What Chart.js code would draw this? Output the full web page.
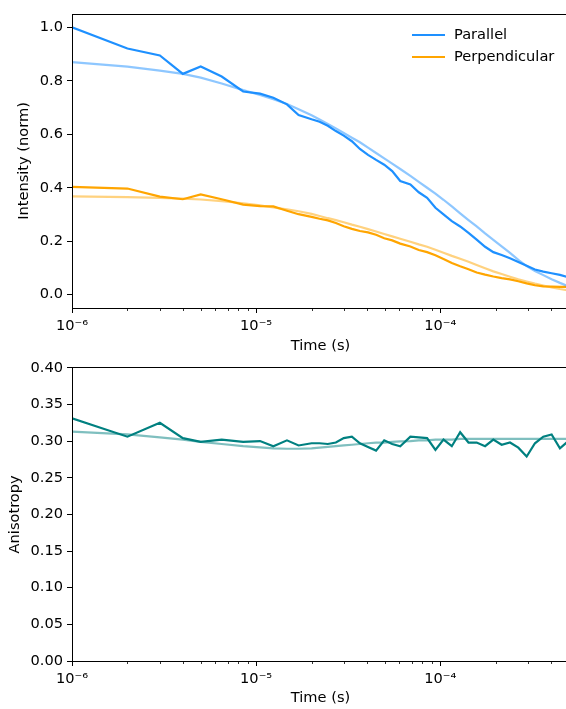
<!DOCTYPE html>
<html><head><meta charset="utf-8">
<script src="https://cdn.jsdelivr.net/npm/chart.js@4.4.0/dist/chart.umd.min.js"></script>
<style>
html,body{margin:0;padding:0;background:#fff;overflow:hidden;width:566px;height:709px;}
#c1{position:absolute;left:0;top:0;}
#c2{position:absolute;left:0;top:355px;}
</style></head><body>
<canvas id="c1" width="569" height="355"></canvas>
<canvas id="c2" width="569" height="354"></canvas>
<script>
// ---- data (time in microseconds) ----
const timesMicro = [1, 2, 3, 4, 5, 6.5, 8.5, 10.5, 12.4, 14.7, 17, 20, 22.1, 24.5, 27.1, 29.9, 33.1, 36.6, 40.5, 44.8, 49.6, 54.8, 60.6, 68.8, 76.4, 84.8, 94.1, 104.1, 115.5, 128.2, 142.3, 157.6, 175.1, 194.1, 215.4, 239.1, 265.3, 294.5, 326.6, 362.5, 402.3, 446.4, 495.4];
const parallel = [1.000, 0.921, 0.895, 0.826, 0.854, 0.816, 0.760, 0.752, 0.737, 0.712, 0.672, 0.656, 0.647, 0.632, 0.612, 0.595, 0.574, 0.545, 0.523, 0.504, 0.486, 0.462, 0.425, 0.412, 0.383, 0.362, 0.325, 0.300, 0.275, 0.255, 0.231, 0.206, 0.179, 0.159, 0.148, 0.136, 0.122, 0.108, 0.094, 0.086, 0.080, 0.074, 0.065];
const parallelFit = [0.870, 0.853, 0.838, 0.826, 0.812, 0.790, 0.765, 0.747, 0.731, 0.713, 0.694, 0.671, 0.655, 0.639, 0.622, 0.605, 0.587, 0.570, 0.550, 0.530, 0.510, 0.490, 0.470, 0.444, 0.422, 0.400, 0.378, 0.355, 0.330, 0.304, 0.279, 0.255, 0.229, 0.205, 0.181, 0.156, 0.130, 0.107, 0.088, 0.073, 0.058, 0.044, 0.031];
const perpendicular = [0.403, 0.397, 0.367, 0.357, 0.375, 0.357, 0.337, 0.331, 0.330, 0.314, 0.301, 0.291, 0.284, 0.278, 0.268, 0.256, 0.246, 0.238, 0.233, 0.224, 0.211, 0.203, 0.191, 0.180, 0.167, 0.159, 0.147, 0.133, 0.118, 0.106, 0.095, 0.083, 0.075, 0.068, 0.062, 0.057, 0.050, 0.042, 0.035, 0.031, 0.030, 0.029, 0.029];
const perpendicularFit = [0.368, 0.365, 0.362, 0.359, 0.356, 0.350, 0.342, 0.334, 0.326, 0.319, 0.312, 0.302, 0.294, 0.286, 0.279, 0.271, 0.262, 0.254, 0.245, 0.236, 0.227, 0.218, 0.209, 0.198, 0.188, 0.179, 0.168, 0.157, 0.145, 0.134, 0.123, 0.111, 0.099, 0.087, 0.077, 0.067, 0.057, 0.049, 0.041, 0.034, 0.027, 0.021, 0.016];
const anisotropy = [0.331, 0.306, 0.325, 0.304, 0.299, 0.302, 0.299, 0.300, 0.293, 0.301, 0.294, 0.297, 0.297, 0.296, 0.298, 0.304, 0.306, 0.297, 0.292, 0.287, 0.301, 0.296, 0.293, 0.306, 0.305, 0.304, 0.288, 0.302, 0.293, 0.312, 0.298, 0.298, 0.293, 0.302, 0.295, 0.298, 0.291, 0.279, 0.297, 0.306, 0.309, 0.290, 0.300];
const anisotropyFit = [0.313, 0.309, 0.305, 0.302, 0.299, 0.296, 0.293, 0.2915, 0.290, 0.2895, 0.2895, 0.290, 0.291, 0.292, 0.293, 0.294, 0.295, 0.296, 0.297, 0.298, 0.298, 0.299, 0.2995, 0.300, 0.301, 0.301, 0.302, 0.302, 0.302, 0.303, 0.303, 0.303, 0.303, 0.303, 0.303, 0.303, 0.303, 0.303, 0.303, 0.303, 0.303, 0.303, 0.303];

// ---- axes / ticks ----
const xMin = 1e-6, xMax = 5e-4;
const xMajorTicks = [1e-6, 1e-5, 1e-4];
const xTickLabels = ['10\u207B\u2076', '10\u207B\u2075', '10\u207B\u2074'];
const xMinorTicks = [2e-6,3e-6,4e-6,5e-6,6e-6,7e-6,8e-6,9e-6,2e-5,3e-5,4e-5,5e-5,6e-5,7e-5,8e-5,9e-5,2e-4,3e-4,4e-4,5e-4];
const topYTicks = [0.0, 0.2, 0.4, 0.6, 0.8, 1.0];
const topYTickLabels = ['0.0', '0.2', '0.4', '0.6', '0.8', '1.0'];
const botYTicks = [0.00, 0.05, 0.10, 0.15, 0.20, 0.25, 0.30, 0.35, 0.40];
const botYTickLabels = ['0.00', '0.05', '0.10', '0.15', '0.20', '0.25', '0.30', '0.35', '0.40'];

const times = timesMicro.map(t => t * 1e-6);
const pts = arr => times.map((t, i) => ({x: t, y: arr[i]}));

const FSIZE = 14.6;
Chart.defaults.font.family = '"DejaVu Sans", sans-serif';
Chart.defaults.font.size = FSIZE;
Chart.defaults.color = '#000';

const FONT = {family: '"DejaVu Sans", sans-serif', size: FSIZE};

const framePlugin = {
  id: 'mplFrame',
  afterDraw(chart) {
    const ctx = chart.ctx, a = chart.chartArea, xs = chart.scales.x;
    ctx.save();
    ctx.strokeStyle = '#000';
    ctx.lineWidth = 0.8;
    xMinorTicks.forEach(v => {
      const px = Math.round(xs.getPixelForValue(v)) + 0.5;
      if (px < a.left || px > a.right) return;
      ctx.beginPath(); ctx.moveTo(px, a.bottom); ctx.lineTo(px, a.bottom + 3); ctx.stroke();
    });
    ctx.lineWidth = 1;
    const L = Math.floor(a.left) + 0.5, T = Math.floor(a.top) + 0.5;
    const R = Math.floor(a.right) - 0.5, B = Math.floor(a.bottom) + 0.5;
    ctx.strokeRect(L, T, R - L, B - T);
    ctx.restore();
  }
};

const legendPlugin = {
  id: 'mplLegend',
  afterDraw(chart) {
    const items = chart.data.datasets.filter(d => d.inLegend);
    if (!items.length) return;
    const ctx = chart.ctx, a = chart.chartArea;
    ctx.save();
    ctx.font = FSIZE + 'px "DejaVu Sans"';
    ctx.textBaseline = 'middle';
    ctx.textAlign = 'left';
    ctx.fillStyle = '#000';
    items.forEach((d, i) => {
      const y = a.top + 21 + i * 22;
      ctx.strokeStyle = d.borderColor; ctx.lineWidth = 2.2;
      ctx.beginPath(); ctx.moveTo(a.right - 157, y); ctx.lineTo(a.right - 124, y); ctx.stroke();
      ctx.fillText(d.label, a.right - 115, y);
    });
    ctx.restore();
  }
};

function xScale(h, titlePad) {
  return {
    type: 'logarithmic', min: xMin, max: xMax,
    afterBuildTicks: s => { s.ticks = xMajorTicks.map(v => ({value: v, major: true})); },
    afterFit: s => { s.height = h; },
    ticks: {autoSkip: false, maxRotation: 0, minRotation: 0, padding: 4.5, font: FONT, color: '#000',
            callback: (v, i) => xTickLabels[i]},
    grid: {display: true, drawOnChartArea: false, drawTicks: true, tickLength: 5, tickColor: '#000', tickWidth: 1},
    border: {display: false},
    title: {display: true, text: 'Time (s)', font: FONT, color: '#000', padding: {top: 0, bottom: titlePad}}
  };
}
function yScale(min, max, ticks, labels, title, titlePad) {
  return {
    type: 'linear', min: min, max: max,
    afterBuildTicks: s => { s.ticks = ticks.map(v => ({value: v})); },
    afterFit: s => { s.width = 72; },
    ticks: {padding: 4, font: FONT, color: '#000', callback: (v, i) => labels[i]},
    grid: {display: true, drawOnChartArea: false, drawTicks: true, tickLength: 5, tickColor: '#000', tickWidth: 1},
    border: {display: false},
    title: {display: true, text: title, font: FONT, color: '#000', padding: {top: titlePad, bottom: 0}}
  };
}
const line = (label, data, color, order, inLegend) => ({
  label, data: pts(data), borderColor: color, backgroundColor: color, borderWidth: 2.2,
  pointRadius: 0, tension: 0, fill: false, order, inLegend
});

new Chart(document.getElementById('c1'), {
  type: 'line',
  data: {datasets: [
    line('Parallel', parallel, '#1e90ff', 3, true),
    line('Perpendicular', perpendicular, '#ffa500', 4, true),
    line('Parallel fit', parallelFit, 'rgba(30,144,255,0.5)', 1, false),
    line('Perpendicular fit', perpendicularFit, 'rgba(255,165,0,0.5)', 2, false)
  ]},
  options: {
    responsive: false, animation: false, devicePixelRatio: 1,
    layout: {padding: {top: 14, left: 0, right: 0, bottom: 0}},
    plugins: {legend: {display: false}, tooltip: {enabled: false}},
    scales: {
      x: xScale(47, 0),
      y: yScale(-0.05, 1.05, topYTicks, topYTickLabels, 'Intensity (norm)', 15.2)
    }
  },
  plugins: [framePlugin, legendPlugin]
});

new Chart(document.getElementById('c2'), {
  type: 'line',
  data: {datasets: [
    line('Anisotropy', anisotropy, '#008080', 2, false),
    line('Anisotropy fit', anisotropyFit, 'rgba(0,128,128,0.5)', 1, false)
  ]},
  options: {
    responsive: false, animation: false, devicePixelRatio: 1,
    layout: {padding: {top: 12, left: 0, right: 0, bottom: 0}},
    plugins: {legend: {display: false}, tooltip: {enabled: false}},
    scales: {
      x: xScale(48, 2.5),
      y: yScale(0, 0.4, botYTicks, botYTickLabels, 'Anisotropy', 6.2)
    }
  },
  plugins: [framePlugin]
});
</script>
</body></html>
